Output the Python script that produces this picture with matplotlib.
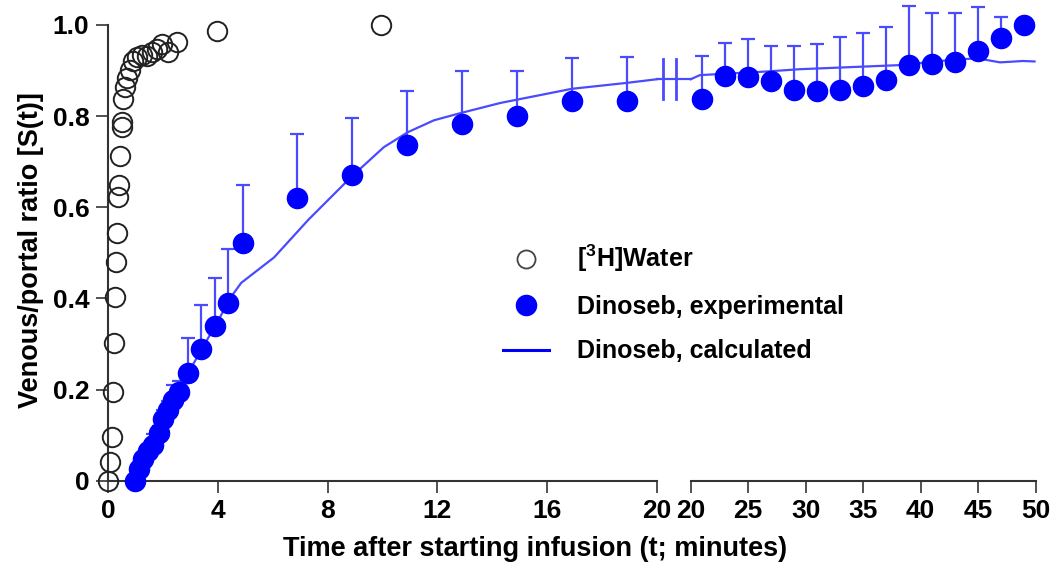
import matplotlib
matplotlib.use("Agg")
import matplotlib.pyplot as plt
from matplotlib.lines import Line2D
import numpy as np

plt.rcParams['font.family'] = ['Liberation Sans', 'DejaVu Sans']
plt.rcParams['font.weight'] = 'bold'
plt.rcParams['mathtext.fontset'] = 'custom'
plt.rcParams['mathtext.rm'] = 'Liberation Sans:bold'
plt.rcParams['mathtext.bf'] = 'Liberation Sans:bold'

# [3H]water
water_t = [0.0, 0.07, 0.15, 0.18, 0.22, 0.25, 0.29, 0.33, 0.36, 0.40, 0.44, 0.51, 0.51, 0.55,
           0.62, 0.69, 0.80, 0.91, 1.06, 1.24, 1.42, 1.60, 1.79, 1.97, 2.19, 2.51, 3.97, 9.95]
water_s = [0.0, 0.041, 0.096, 0.195, 0.302, 0.403, 0.48, 0.543, 0.622, 0.649, 0.712, 0.776, 0.787, 0.838,
           0.864, 0.884, 0.901, 0.921, 0.93, 0.934, 0.932, 0.941, 0.947, 0.958, 0.941, 0.963, 0.987, 1.0]

# dinoseb, experimental (mean and upper SD)
dino_t = [0.98, 1.13, 1.28, 1.46, 1.64, 1.86, 2.0, 2.19, 2.37, 2.59, 2.91, 3.39, 3.9, 4.37, 4.92,
          6.9, 8.9, 10.9, 12.9, 14.9, 16.9, 18.9,
          21, 23, 25, 27, 29, 31, 33, 35, 37, 39, 41, 43, 45, 47, 49]
dino_s = [0.0, 0.025, 0.047, 0.065, 0.078, 0.104, 0.135, 0.155, 0.176, 0.194, 0.236, 0.29, 0.339, 0.389, 0.522,
          0.62, 0.67, 0.737, 0.782, 0.80, 0.834, 0.834,
          0.838, 0.888, 0.886, 0.877, 0.857, 0.855, 0.857, 0.866, 0.879, 0.912, 0.915, 0.919, 0.943, 0.971, 1.0]
dino_err = [0, 0, 0, 0.01, 0.025, 0.015, 0.02, 0.02, 0.035, 0.025, 0.077, 0.095, 0.105, 0.12, 0.127,
            0.14, 0.125, 0.118, 0.118, 0.10, 0.094, 0.096,
            0.094, 0.073, 0.083, 0.077, 0.097, 0.103, 0.117, 0.116, 0.116, 0.13, 0.112, 0.108, 0.097, 0.047, 0]

# dinoseb, calculated
calc_t = [0.98, 2.0, 3.0, 4.0, 4.48, 4.85, 6.05, 7.29, 8.85, 10.05, 10.93, 11.88, 12.86, 14.3, 16.9, 18.9, 20.0,
          20.8, 26.6, 29.5, 35.3, 38.2, 42.5, 44.9, 46.9, 48.9, 49.9]
calc_s = [0.0, 0.13, 0.245, 0.35, 0.403, 0.434, 0.49, 0.572, 0.666, 0.732, 0.765, 0.791, 0.807, 0.829, 0.86, 0.873, 0.881,
          0.89, 0.898, 0.903, 0.909, 0.912, 0.923, 0.927, 0.918, 0.921, 0.92]

blue = '#0000ff'
line_blue = '#4a4aff'
axis_col = '#333333'

fig = plt.figure(figsize=(10.58, 5.68), dpi=100)
ax1 = fig.add_axes([108 / 1058, 87.3 / 568, 549 / 1058, 455.7 / 568])
ax2 = fig.add_axes([690.7 / 1058, 87.3 / 568, 345 / 1058, 455.7 / 568])

t_w = np.array(water_t)
s_w = np.array(water_s)
t_d = np.array(dino_t)
s_d = np.array(dino_s)
e_d = np.array(dino_err)
t_c = np.array(calc_t)
s_c = np.array(calc_s)

for ax, lo, hi in [(ax1, 0, 20), (ax2, 20, 50)]:
    m = (t_c >= lo) & (t_c <= hi)
    ax.plot(t_c[m], s_c[m], color=line_blue, lw=1.6, zorder=2, clip_on=False)
    m = (t_d >= lo) & (t_d <= hi)
    ax.errorbar(t_d[m], s_d[m], yerr=[np.zeros(m.sum()), e_d[m]], fmt='none',
                ecolor=line_blue, elinewidth=1.6, capsize=5, capthick=1.6, zorder=3, clip_on=False)
    ax.plot(t_d[m], s_d[m], 'o', color=blue, ms=14.5, mec=blue, zorder=4, clip_on=False)
    m = (t_w >= lo) & (t_w <= hi)
    ax.plot(t_w[m], s_w[m], 'o', mfc='none', mec='#222222', mew=1.4, ms=14, zorder=5, clip_on=False)

    ax.set_xlim(lo, hi)
    ax.set_ylim(0, 1.0)
    for side in ['top', 'right']:
        ax.spines[side].set_visible(False)
    ax.spines['bottom'].set_color(axis_col)
    ax.spines['bottom'].set_linewidth(1.5)
    ax.spines['left'].set_color(axis_col)
    ax.spines['left'].set_linewidth(1.5)
    ax.tick_params(direction='out', length=8.5, width=1.2, color=axis_col, pad=5)

ax1.set_xticks([0, 4, 8, 12, 16, 20])
ax2.set_xticks([20, 25, 30, 35, 40, 45, 50])
ax1.set_yticks([0, 0.2, 0.4, 0.6, 0.8, 1.0])
ax1.set_yticklabels(['0', '0.2', '0.4', '0.6', '0.8', '1.0'], fontsize=19, fontweight='bold')
ax2.spines['left'].set_visible(False)
ax2.set_yticks([])
for ax in (ax1, ax2):
    for lab in ax.get_xticklabels():
        lab.set_family(['Liberation Sans Narrow', 'Liberation Sans'])
        lab.set_fontsize(19)
        lab.set_fontweight('bold')

# curve continues across the axis break, with two break marks on it
fig.canvas.draw()
p0 = fig.transFigure.inverted().transform(ax1.transData.transform((20, s_c[t_c == 20.0][0])))
p1 = fig.transFigure.inverted().transform(ax2.transData.transform((20, s_c[t_c == 20.0][0])))
fig.add_artist(Line2D([p0[0], p1[0]], [p0[1], p1[1]], color=line_blue, lw=1.6, transform=fig.transFigure))
for f in (0.17, 0.57):
    xb = p0[0] + f * (p1[0] - p0[0])
    yb = p0[1] + f * (p1[1] - p0[1])
    fig.add_artist(Line2D([xb, xb], [yb - 20 / 568, yb + 20 / 568], color=line_blue, lw=2.0,
                          transform=fig.transFigure))

fig.text(31 / 1058, 1 - 250 / 568, 'Venous/portal ratio [S(t)]', rotation=90, ha='center', va='center',
         fontsize=19.5, fontweight='bold')
fig.text(535 / 1058, 1 - 549 / 568, 'Time after starting infusion (t; minutes)', ha='center', va='center',
         fontsize=19.5, fontweight='bold')

handles = [
    Line2D([], [], ls='none', marker='o', mfc='none', mec='#444444', mew=1.3, ms=13),
    Line2D([], [], ls='none', marker='o', color=blue, ms=14.5),
    Line2D([], [], color=blue, lw=2.2),
]
labels = [r'[$^{3}$H]Water', 'Dinoseb, experimental', 'Dinoseb, calculated']
fig.legend(handles, labels, loc='upper left', bbox_to_anchor=(503 / 1058, 1 - 243 / 568),
           frameon=False, handlelength=1.85, handletextpad=1.1, labelspacing=0.82,
           borderpad=0, borderaxespad=0, prop={'weight': 'bold', 'size': 18})

fig.savefig('out.png', dpi=100)
